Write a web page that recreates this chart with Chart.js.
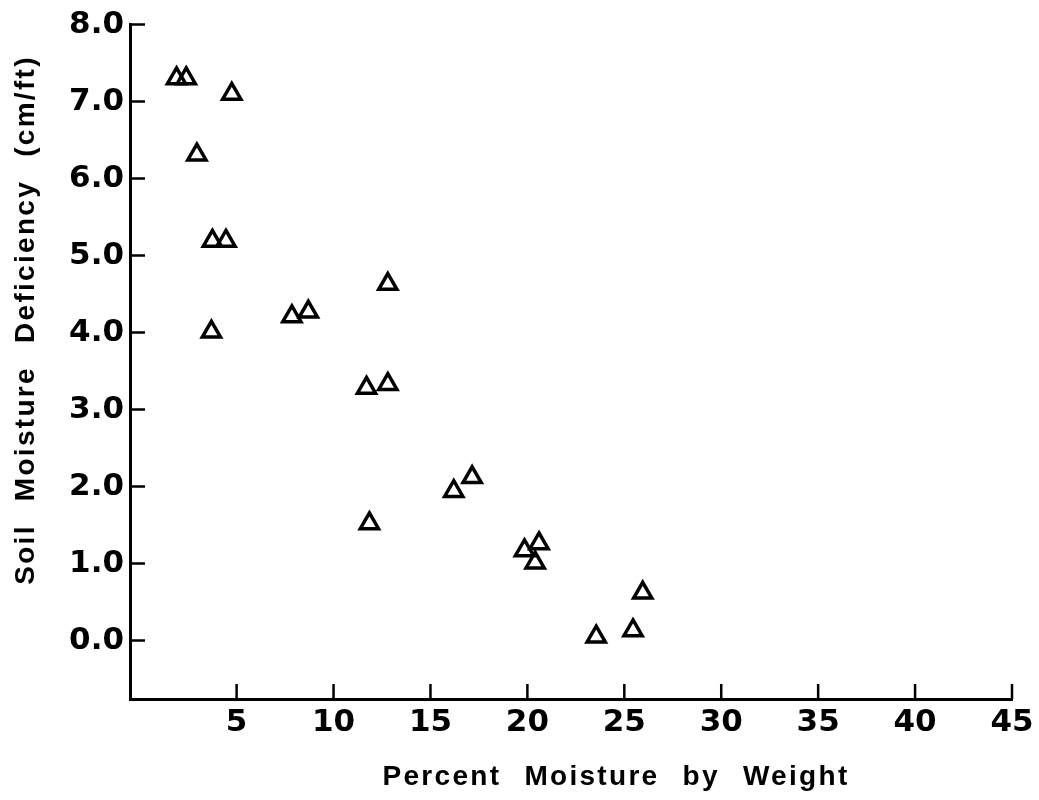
<!DOCTYPE html>
<html>
<head>
<meta charset="utf-8">
<title>Soil Moisture Deficiency</title>
<script src="https://cdn.jsdelivr.net/npm/chart.js@4"></script>
<style>
  html, body { margin: 0; padding: 0; background: #fff; }
</style>
</head>
<body>
<canvas id="chart" width="1039" height="800"></canvas>
<script>
// values
const moisturePct = [1.9, 2.4, 4.75, 2.95, 3.75, 4.45, 3.7, 7.85, 8.7, 12.8, 11.7, 12.8,
                     11.85, 16.2, 17.15, 19.85, 20.6, 20.4, 25.95, 23.55, 25.45];
const deficiency  = [7.30, 7.30, 7.10, 6.31, 5.19, 5.19, 4.01, 4.21, 4.27, 4.63, 3.28, 3.33,
                     1.52, 1.94, 2.12, 1.17, 1.26, 1.01, 0.62, 0.05, 0.13];
const xTicks = [5, 10, 15, 20, 25, 30, 35, 40, 45];
const yTicks = [0, 1, 2, 3, 4, 5, 6, 7, 8];
const xTitle = 'Percent Moisture by Weight';
const yTitle = 'Soil Moisture Deficiency (cm/ft)';

const points = moisturePct.map((x, i) => ({ x: x, y: deficiency[i] }));

// ticks point inward and the titles use wide letter spacing, so draw them here
const frameMarks = {
  id: 'frameMarks',
  afterDraw(chart) {
    const ctx = chart.ctx;
    const area = chart.chartArea;
    const xs = chart.scales.x;
    const ys = chart.scales.y;
    ctx.save();
    ctx.strokeStyle = '#000';
    ctx.lineWidth = 2.5;
    ctx.beginPath();
    xs.ticks.forEach(t => {
      const px = xs.getPixelForValue(t.value);
      ctx.moveTo(px, area.bottom);
      ctx.lineTo(px, area.bottom - 15);
    });
    ys.ticks.forEach(t => {
      const py = ys.getPixelForValue(t.value);
      ctx.moveTo(area.left, py);
      ctx.lineTo(area.left + 15, py);
    });
    ctx.stroke();

    ctx.fillStyle = '#000';
    ctx.font = 'bold 28px "Liberation Sans", Arial, sans-serif';
    ctx.letterSpacing = '2.3px';
    ctx.wordSpacing = '13px';
    ctx.textAlign = 'center';
    ctx.textBaseline = 'middle';
    ctx.fillText(xTitle, 616, 777);
    ctx.translate(26, 320);
    ctx.rotate(-Math.PI / 2);
    ctx.fillText(yTitle, 0, 0);
    ctx.restore();
  }
};

const tickFont = { family: '"DejaVu Sans", sans-serif', size: 31, weight: 'bold' };

new Chart(document.getElementById('chart'), {
  type: 'scatter',
  data: {
    datasets: [{
      data: points,
      pointStyle: 'triangle',
      pointRadius: 10.5,
      pointBorderWidth: 3.5,
      pointBorderColor: '#000',
      pointBackgroundColor: 'rgba(0,0,0,0)',
      showLine: false
    }]
  },
  options: {
    responsive: false,
    animation: false,
    layout: { padding: { top: 20, right: 27, left: 0, bottom: 0 } },
    plugins: { legend: { display: false }, tooltip: { enabled: false } },
    scales: {
      x: {
        type: 'linear',
        min: -0.5,
        max: 45,
        afterBuildTicks: s => { s.ticks = xTicks.map(v => ({ value: v })); },
        afterFit: s => { s.height = 101; },
        grid: { display: false, drawTicks: false },
        border: { display: true, color: '#000', width: 3 },
        ticks: {
          color: '#000',
          font: tickFont,
          padding: 5,
          maxRotation: 0,
          autoSkip: false,
          callback: v => String(v)
        }
      },
      y: {
        type: 'linear',
        min: -0.76,
        max: 8,
        afterBuildTicks: s => { s.ticks = yTicks.map(v => ({ value: v })); },
        afterFit: s => { s.width = 130; },
        grid: { display: false, drawTicks: false },
        border: { display: true, color: '#000', width: 3 },
        ticks: {
          color: '#000',
          font: tickFont,
          padding: 6,
          callback: v => v.toFixed(1)
        }
      }
    }
  },
  plugins: [frameMarks]
});
</script>
</body>
</html>
